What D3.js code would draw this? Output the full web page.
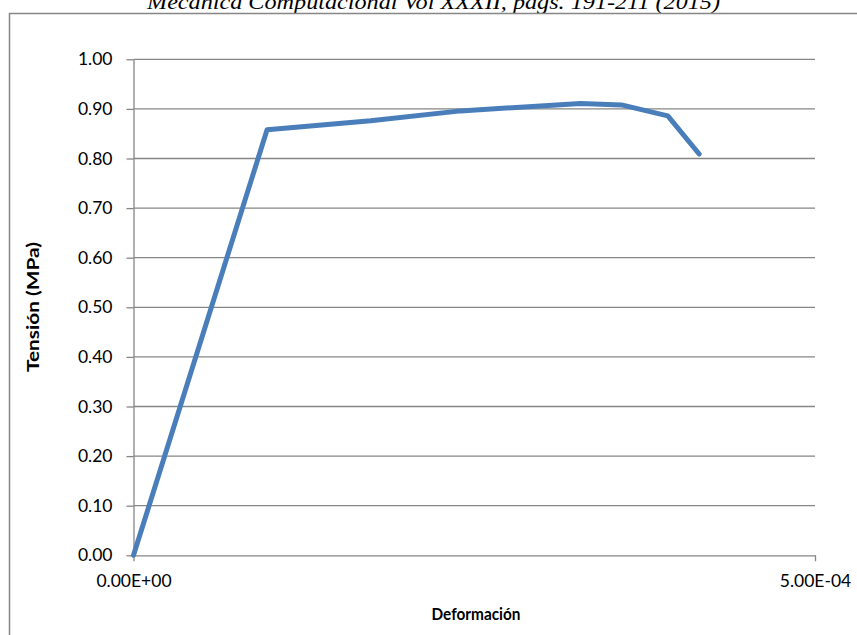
<!DOCTYPE html>
<html>
<head>
<meta charset="utf-8">
<script src="https://d3js.org/d3.v7.min.js"></script>
<style>
  html, body { margin: 0; padding: 0; background: #ffffff; }
  svg { display: block; }
</style>
</head>
<body>
<svg id="chart" width="857" height="635"></svg>
<script>
// Strain (deformación) and stress (tensión, MPa) of the test curve
const deformacion = [0, 0.98e-4, 1.74e-4, 2.40e-4, 3.28e-4, 3.58e-4, 3.92e-4, 4.15e-4];
const tension     = [0, 0.858,   0.876,   0.896,   0.911,   0.908,   0.886,   0.809];

const yTicks = [0, 0.1, 0.2, 0.3, 0.4, 0.5, 0.6, 0.7, 0.8, 0.9, 1.0];
const xTicks = [0, 5e-4];
const xTickLabels = ["0.00E+00", "5.00E-04"];

const titulo = "Mecánica Computacional Vol XXXII, págs. 191-211 (2015)";
const ejeY = "Tensión (MPa)";
const ejeX = "Deformación";

const svg = d3.select("#chart");
const gray = "#868686";
const font = "Lato, 'Open Sans', sans-serif";

const x = d3.scaleLinear().domain([0, 5e-4]).range([133.5, 815]);
const y = d3.scaleLinear().domain([0, 1]).range([555.3, 59.3]);

// running header above the chart frame
svg.append("text")
  .attr("x", 147).attr("y", 9)
  .attr("font-family", "'Liberation Serif', 'Times New Roman', serif")
  .attr("font-style", "italic")
  .attr("font-size", 20)
  .attr("fill", "#000")
  .attr("textLength", 573)
  .attr("lengthAdjust", "spacingAndGlyphs")
  .text(titulo);

// chart frame
svg.append("rect")
  .attr("x", 9.5).attr("y", 13.5)
  .attr("width", 900).attr("height", 700)
  .attr("fill", "none")
  .attr("stroke", gray)
  .attr("stroke-width", 1.5);

// horizontal gridlines
svg.append("g")
  .selectAll("line")
  .data(yTicks.filter(d => d > 0))
  .join("line")
  .attr("x1", x(0)).attr("x2", x(5e-4))
  .attr("y1", d => y(d)).attr("y2", d => y(d))
  .attr("stroke", gray).attr("stroke-width", 1.3);

// y axis
const yAxis = d3.axisLeft(y)
  .tickValues(yTicks)
  .tickFormat(d3.format(".2f"))
  .tickSizeInner(7).tickSizeOuter(0).tickPadding(14);
const gy = svg.append("g").attr("transform", `translate(${x(0)},0)`).call(yAxis);
gy.select(".domain").attr("stroke", gray).attr("stroke-width", 1.3);
gy.selectAll(".tick line").attr("stroke", gray).attr("stroke-width", 1.3);
gy.selectAll(".tick text")
  .attr("font-family", font).attr("font-size", 17.5).attr("fill", "#000");

// x axis
const xAxis = d3.axisBottom(x)
  .tickValues(xTicks)
  .tickFormat((d, i) => xTickLabels[i])
  .tickSizeInner(6).tickSizeOuter(0).tickPadding(13);
const gx = svg.append("g").attr("transform", `translate(0,${y(0)})`).call(xAxis);
gx.select(".domain").attr("stroke", gray).attr("stroke-width", 1.3);
gx.selectAll(".tick line").attr("stroke", gray).attr("stroke-width", 1.3);
gx.selectAll(".tick text")
  .attr("font-family", font).attr("font-size", 17.5).attr("fill", "#000");

// axis titles
svg.append("text")
  .attr("transform", "translate(39,307) rotate(-90)")
  .attr("text-anchor", "middle")
  .attr("font-family", font).attr("font-weight", "bold")
  .attr("font-size", 17).attr("fill", "#000")
  .attr("textLength", 130).attr("lengthAdjust", "spacingAndGlyphs")
  .text(ejeY);

svg.append("text")
  .attr("x", 476).attr("y", 620)
  .attr("text-anchor", "middle")
  .attr("font-family", font).attr("font-weight", "bold")
  .attr("font-size", 17.5).attr("fill", "#000")
  .attr("textLength", 89).attr("lengthAdjust", "spacingAndGlyphs")
  .text(ejeX);

// stress-strain curve
const datos = deformacion.map((d, i) => [d, tension[i]]);
svg.append("path")
  .datum(datos)
  .attr("d", d3.line().x(d => x(d[0])).y(d => y(d[1])))
  .attr("fill", "none")
  .attr("stroke", "#4a7ebb")
  .attr("stroke-width", 5)
  .attr("stroke-linejoin", "round")
  .attr("stroke-linecap", "round");
</script>
</body>
</html>
